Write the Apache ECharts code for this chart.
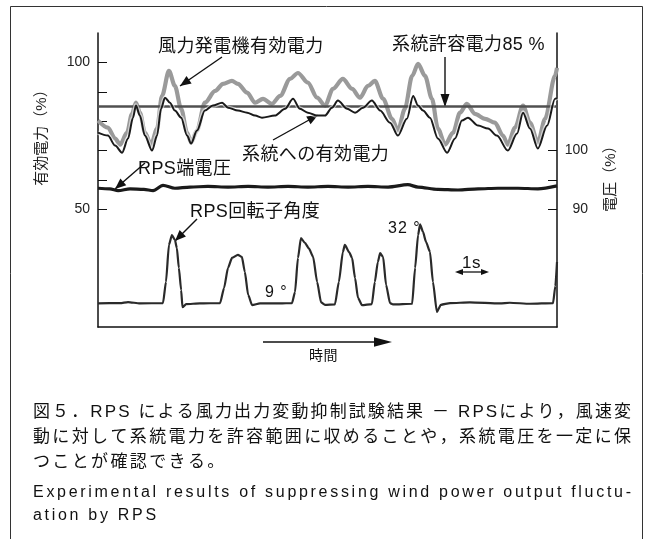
<!DOCTYPE html>
<html><head><meta charset="utf-8">
<script src="https://cdn.jsdelivr.net/npm/echarts@6/dist/echarts.min.js"></script>
<style>html,body{margin:0;padding:0;background:#fff}#c{width:654px;height:539px}</style>
</head><body><div id="c"></div>
<script>
// ---------------- data ----------------
const timeMax = 13.91;            // seconds shown across the plot
const allowedLimit = 85;          // 系統許容電力 85 %
const leftTickValues = [50, 60, 70, 80, 90, 100];
const leftLabelValues = [50, 100];
const rightTickValues = [90, 95, 100];
const rightLabelValues = [90, 100];

const windTime = [0.00,0.30,0.52,0.67,0.88,1.03,1.15,1.27,1.42,1.61,1.79,1.94,2.15,2.33,2.52,2.70,2.82,3.00,3.24,3.55,3.79,4.06,4.24,4.52,4.76,5.00,5.27,5.52,5.82,6.06,6.36,6.64,6.88,7.12,7.42,7.70,7.94,8.18,8.39,8.64,8.91,9.09,9.30,9.52,9.70,9.91,10.12,10.30,10.52,10.76,10.97,11.18,11.42,11.73,12.03,12.27,12.42,12.64,12.88,13.09,13.33,13.55,13.85,13.91];
const windPower = [80.2,77.8,74.1,72.0,76.1,82.5,86.3,82.9,76.1,72.0,77.5,88.6,97.1,92.0,84.2,76.1,72.7,76.8,86.3,90.3,92.7,93.7,92.7,89.7,86.3,87.6,85.9,88.6,94.4,96.4,93.1,88.0,85.3,91.0,94.4,91.0,88.0,92.0,93.7,87.6,80.8,76.8,84.2,95.4,99.5,95.4,87.6,77.5,72.0,76.1,82.9,85.9,82.5,80.8,79.5,75.1,72.0,77.8,85.3,79.5,72.7,80.8,95.4,98.1];

const gridTime = [0.00,0.30,0.52,0.73,0.91,1.06,1.15,1.27,1.42,1.64,1.79,1.91,2.03,2.18,2.33,2.52,2.70,2.82,3.00,3.24,3.48,3.76,3.94,4.24,4.52,4.76,4.97,5.36,5.67,5.91,6.12,6.36,6.64,6.88,7.09,7.27,7.55,7.79,8.03,8.30,8.55,8.85,9.09,9.36,9.55,9.70,9.85,10.06,10.30,10.58,10.82,11.03,11.21,11.52,11.82,12.09,12.42,12.70,12.88,13.09,13.33,13.61,13.85,13.91];
const gridPower = [76.1,75.1,71.7,69.3,74.1,81.2,85.3,81.9,75.1,70.0,75.1,84.2,88.0,86.3,83.6,81.2,75.1,72.4,76.8,83.6,85.3,86.3,84.6,83.6,82.9,81.9,81.2,81.9,84.2,87.6,84.2,82.9,81.9,81.9,84.6,87.0,84.2,82.9,84.6,87.0,83.6,79.5,75.1,80.8,88.6,85.3,83.6,81.2,74.1,69.3,74.1,80.2,81.2,78.5,77.5,75.1,70.0,75.8,82.9,77.5,70.7,78.5,87.6,88.0];

const voltTime = [0.00,0.36,0.61,0.97,1.39,1.67,1.97,2.33,2.79,3.33,3.94,4.55,5.15,5.76,6.36,6.97,7.58,8.18,8.79,9.39,9.70,10.30,10.91,11.52,12.12,12.73,13.33,13.91];
const voltValue = [93.6,93.5,93.2,93.5,93.4,93.2,94.1,93.6,93.8,93.9,93.8,93.9,93.8,93.9,93.8,93.9,93.8,93.9,93.8,94.2,93.8,93.4,93.3,93.5,93.6,93.6,93.5,94.0];

const rotorTime = [0,0.67,0.91,1.27,1.97,2.06,2.15,2.24,2.33,2.39,2.45,2.52,2.56,2.67,3.09,3.70,3.82,3.94,4.06,4.24,4.36,4.45,4.55,4.67,4.91,5.52,5.88,5.97,6.06,6.15,6.27,6.39,6.52,6.64,6.76,6.88,7.18,7.30,7.42,7.48,7.61,7.70,7.79,7.88,8.00,8.30,8.39,8.48,8.55,8.64,8.73,8.85,8.94,9.52,9.61,9.70,9.76,9.85,9.94,10.06,10.15,10.27,10.39,10.67,11.27,12.18,12.48,13.09,13.79,13.86,13.91];
const rotorAngle = [8.9,9.0,9.3,8.9,9.0,15.2,26.0,28.9,27.5,25.1,19.3,12.8,7.8,8.7,8.9,9.0,13.4,19.3,22.2,23.1,22.5,18.1,11.4,8.4,8.9,8.9,9.0,12.2,22.2,28.0,26.6,25.0,22.5,15.2,9.2,8.5,8.6,15.2,23.9,26.0,23.9,22.2,16.3,10.5,8.4,8.7,15.2,21.0,23.6,22.5,14.3,9.0,8.6,8.8,19.3,28.9,32.0,29.8,26.9,24.0,15.2,6.4,8.5,9.0,9.2,8.9,9.1,8.8,9.0,14.0,21.0];

const captionLinesJP = ['図５．RPS による風力出力変動抑制試験結果 － RPSにより，風速変',
                        '動に対して系統電力を許容範囲に収めることや，系統電圧を一定に保',
                        'つことが確認できる。'];
const captionLinesEN = ['Experimental results of suppressing wind power output fluctu-',
                        'ation by RPS'];

// ---------------- helpers ----------------
const FAM = "'Liberation Sans','Noto Sans CJK JP',sans-serif";
const FAM_EN = "'Liberation Sans',sans-serif";
const ctx = document.createElement('canvas').getContext('2d');
function charWidths(str, size, fam) {
  ctx.font = size + 'px ' + fam;
  return Array.from(str).map(ch => ctx.measureText(ch).width);
}
function spacedText(str, x, y, size, spacing, fam, color, targetWidth) {
  const chars = Array.from(str);
  const w = charWidths(str, size, fam);
  if (targetWidth) {
    const sum = w.reduce((a, b) => a + b, 0);
    spacing = (targetWidth - sum) / (chars.length - 1);
  }
  const els = [];
  let cx = x;
  chars.forEach((ch, i) => {
    els.push({type: 'text', x: cx, y: y, silent: true,
      style: {text: ch, font: size + 'px ' + fam, fill: color || '#111',
        textAlign: 'left', textVerticalAlign: 'middle', align: 'left', verticalAlign: 'middle'}});
    cx += w[i] + spacing;
  });
  return {els, spacing};
}
function arrowHead(tx, ty, fx, fy, len, half) {
  const dx = tx - fx, dy = ty - fy, L = Math.hypot(dx, dy);
  const ux = dx / L, uy = dy / L;
  const bx = tx - ux * len, by = ty - uy * len;
  return {type: 'polygon', silent: true,
    shape: {points: [[tx, ty], [bx - uy * half, by + ux * half], [bx + uy * half, by - ux * half]]},
    style: {fill: '#111'}};
}
function arrow(x1, y1, x2, y2, len, half, w) {
  len = len || 11; half = half || 4.5;
  return [
    {type: 'line', silent: true, shape: {x1, y1, x2, y2}, style: {stroke: '#111', lineWidth: w || 1.4}},
    arrowHead(x2, y2, x1, y1, len, half)
  ];
}
function rotText(str, x, y, size) {
  return {type: 'text', x: x, y: y, rotation: Math.PI / 2, silent: true,
    style: {text: str, font: size + 'px ' + FAM, fill: '#222',
      textAlign: 'center', textVerticalAlign: 'middle', align: 'center', verticalAlign: 'middle'}};
}

// ---------------- graphics (annotations, frame, caption) ----------------
let g = [];
g.push({type: 'rect', silent: true, shape: {x: 10.5, y: 6.5, width: 632, height: 600},
  style: {fill: 'none', stroke: '#333', lineWidth: 1}});

const AN = 18, SP = 0.4;
g = g.concat(spacedText('風力発電機有効電力', 158, 47, AN, SP, FAM).els);
g = g.concat(arrow(222, 57, 180, 86));
g = g.concat(spacedText('系統許容電力85 %', 392, 45.5, AN, SP, FAM).els);
g = g.concat(arrow(445, 57, 445, 107, 13, 4.5));
g = g.concat(spacedText('系統への有効電力', 242, 155, AN, SP, FAM).els);
g = g.concat(arrow(273, 140, 318, 115));
g = g.concat(spacedText('RPS端電圧', 138, 169, AN, SP, FAM).els);
g = g.concat(arrow(145, 163, 115, 189));
g = g.concat(spacedText('RPS回転子角度', 190, 212.5, AN, SP, FAM).els);
g = g.concat(arrow(197, 219, 175, 241));
g = g.concat(spacedText('9 °', 265, 293, 16, 1, FAM).els);
g = g.concat(spacedText('32 °', 388, 229, 16, 1, FAM).els);
g = g.concat(spacedText('1s', 462, 263, 17, 0.5, FAM).els);
g.push({type: 'line', silent: true, shape: {x1: 458, y1: 272, x2: 485, y2: 272}, style: {stroke: '#111', lineWidth: 1.3}});
g.push(arrowHead(455, 272, 470, 272, 8, 3));
g.push(arrowHead(489, 272, 470, 272, 8, 3));

g.push(rotText('有効電力（%）', 42, 134, 15));
g.push(rotText('電圧（%）', 611, 175, 15));

g.push({type: 'line', silent: true, shape: {x1: 263, y1: 342, x2: 376, y2: 342}, style: {stroke: '#111', lineWidth: 1.6}});
g.push(arrowHead(392, 342, 263, 342, 18, 4.8));
g = g.concat(spacedText('時間', 309, 356, 14, 0.5, FAM).els);

// caption
const CX = 33, CW = 598;
const r1 = spacedText(captionLinesJP[0], CX, 412.5, 17, 0, FAM, '#111', CW);
const r2 = spacedText(captionLinesJP[1], CX, 437.5, 17, 0, FAM, '#111', CW);
const r3 = spacedText(captionLinesJP[2], CX, 462.5, 17, r2.spacing, FAM, '#111');
const e1 = spacedText(captionLinesEN[0], CX, 492.5, 16, 0, FAM_EN, '#111', CW);
const e2 = spacedText(captionLinesEN[1], CX, 516, 16, e1.spacing, FAM_EN, '#111');
g = g.concat(r1.els, r2.els, r3.els, e1.els, e2.els);

// ---------------- chart ----------------
const zip = (a, b) => a.map((t, i) => [t, b[i]]);
const chart = echarts.init(document.getElementById('c'), null, {renderer: 'canvas'});
const axisLineStyle = {color: '#111', width: 1.5};
chart.setOption({
  animation: false,
  backgroundColor: '#fff',
  grid: {left: 98, right: 97, top: 33, bottom: 212, containLabel: false},
  xAxis: {type: 'value', min: 0, max: timeMax,
    axisLine: {show: true, onZero: false, lineStyle: axisLineStyle},
    axisTick: {show: false}, axisLabel: {show: false}, splitLine: {show: false}},
  yAxis: [
    {type: 'value', min: 10, max: 110, position: 'left',
      axisLine: {show: true, onZero: false, lineStyle: axisLineStyle},
      axisTick: {show: true, inside: true, length: 9, customValues: leftTickValues, lineStyle: {color: '#111', width: 1}},
      axisLabel: {show: true, customValues: leftLabelValues, margin: 8, fontSize: 14, color: '#222', fontFamily: 'Liberation Sans'},
      splitLine: {show: false}},
    {type: 'value', min: 70, max: 120, position: 'right',
      axisLine: {show: true, onZero: false, lineStyle: axisLineStyle},
      axisTick: {show: true, inside: true, length: 9, customValues: rightTickValues, lineStyle: {color: '#111', width: 1}},
      axisLabel: {show: true, customValues: rightLabelValues, margin: 31, align: 'right', fontSize: 14, color: '#222', fontFamily: 'Liberation Sans'},
      splitLine: {show: false}},
    {type: 'value', min: 2, max: 88, show: false}
  ],
  series: [
    {name: '風力発電機有効電力', type: 'line', yAxisIndex: 0, data: zip(windTime, windPower),
      showSymbol: false, smooth: 0.3, smoothMonotone: 'x', z: 2,
      lineStyle: {color: '#9a9a9a', width: 4.2}},
    {name: '系統許容電力', type: 'line', yAxisIndex: 0, data: [[0, allowedLimit], [timeMax, allowedLimit]],
      showSymbol: false, z: 3, lineStyle: {color: '#505050', width: 2.5}},
    {name: 'halo', type: 'line', yAxisIndex: 0, data: zip(gridTime, gridPower),
      showSymbol: false, smooth: 0.3, smoothMonotone: 'x', z: 4,
      lineStyle: {color: '#ffffff', width: 4.5, opacity: 0.55}},
    {name: '系統への有効電力', type: 'line', yAxisIndex: 0, data: zip(gridTime, gridPower),
      showSymbol: false, smooth: 0.3, smoothMonotone: 'x', z: 5,
      lineStyle: {color: '#1a1a1a', width: 2}},
    {name: 'RPS端電圧', type: 'line', yAxisIndex: 1, data: zip(voltTime, voltValue),
      showSymbol: false, smooth: 0.3, smoothMonotone: 'x', z: 5,
      lineStyle: {color: '#1a1a1a', width: 3.2}},
    {name: 'RPS回転子角度', type: 'line', yAxisIndex: 2, data: zip(rotorTime, rotorAngle),
      showSymbol: false, smooth: 0.2, smoothMonotone: 'x', z: 5,
      lineStyle: {color: '#2a2a2a', width: 2.2}}
  ],
  graphic: {elements: g}
});
</script></body></html>
